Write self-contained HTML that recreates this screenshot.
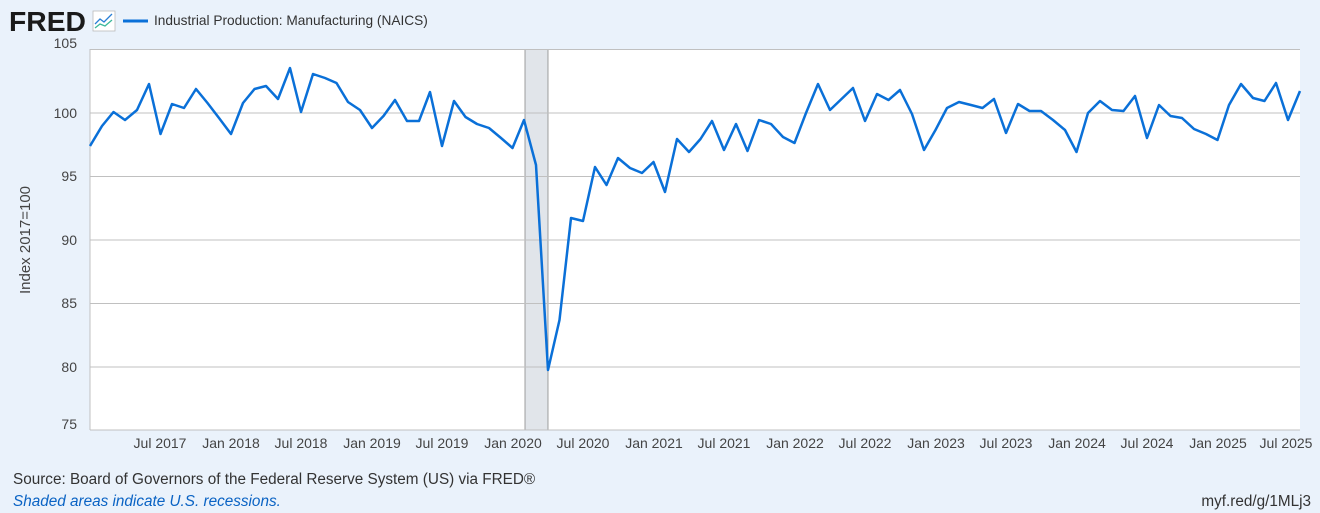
<!DOCTYPE html>
<html><head><meta charset="utf-8"><style>
html,body{margin:0;padding:0;background:#eaf2fb;}
svg{display:block;font-family:"Liberation Sans",sans-serif;}
</style></head><body>
<svg width="1320" height="513" viewBox="0 0 1320 513" xmlns="http://www.w3.org/2000/svg">
<rect width="1320" height="513" fill="#eaf2fb"/>
<text x="9" y="31" font-size="28" font-weight="bold" fill="#1a1a1a" letter-spacing="0" textLength="77" lengthAdjust="spacingAndGlyphs">FRED</text>
<rect x="93" y="11" width="22" height="20" fill="#fff" stroke="#bbb" stroke-width="0.8"/>
<polyline points="95,24 100,19 104,22 112,14" fill="none" stroke="#2a7fd6" stroke-width="1.3"/>
<polyline points="95,28 100,24 105,26 112,20" fill="none" stroke="#3cb89a" stroke-width="1.3"/>
<line x1="123" y1="21" x2="148" y2="21" stroke="#0a70d8" stroke-width="3"/>
<text x="154" y="25" font-size="13.7" fill="#333">Industrial Production: Manufacturing (NAICS)</text>
<rect x="90" y="49" width="1210" height="381" fill="#fff"/>
<rect x="525" y="49" width="23" height="381" fill="#e1e5ea"/>
<line x1="525" y1="49" x2="525" y2="430" stroke="#888" stroke-width="0.8"/>
<line x1="548" y1="49" x2="548" y2="430" stroke="#888" stroke-width="0.8"/>
<g stroke="#c0c0c0" stroke-width="1">
<line x1="90" y1="49.5" x2="1300" y2="49.5"/>
<line x1="90" y1="113" x2="1300" y2="113"/>
<line x1="90" y1="176.5" x2="1300" y2="176.5"/>
<line x1="90" y1="240" x2="1300" y2="240"/>
<line x1="90" y1="303.5" x2="1300" y2="303.5"/>
<line x1="90" y1="367" x2="1300" y2="367"/>
<line x1="90" y1="430" x2="1300" y2="430"/>
<line x1="90" y1="49" x2="90" y2="430"/>
</g>
<g font-size="14" fill="#444" text-anchor="end">
<text x="77" y="48">105</text><text x="77" y="118">100</text><text x="77" y="181">95</text>
<text x="77" y="245">90</text><text x="77" y="308">85</text><text x="77" y="372">80</text><text x="77" y="429">75</text>
</g>
<text transform="translate(30,240) rotate(-90)" font-size="15" fill="#444" text-anchor="middle">Index 2017=100</text>
<g font-size="14" fill="#444" text-anchor="middle">
<text x="160" y="448">Jul 2017</text><text x="231" y="448">Jan 2018</text><text x="301" y="448">Jul 2018</text>
<text x="372" y="448">Jan 2019</text><text x="442" y="448">Jul 2019</text><text x="513" y="448">Jan 2020</text>
<text x="583" y="448">Jul 2020</text><text x="654" y="448">Jan 2021</text><text x="724" y="448">Jul 2021</text>
<text x="795" y="448">Jan 2022</text><text x="865" y="448">Jul 2022</text><text x="936" y="448">Jan 2023</text>
<text x="1006" y="448">Jul 2023</text><text x="1077" y="448">Jan 2024</text><text x="1147" y="448">Jul 2024</text>
<text x="1218" y="448">Jan 2025</text><text x="1286" y="448">Jul 2025</text>
</g>
<polyline fill="none" stroke="#0a70d8" stroke-width="2.5" stroke-linejoin="round" points="90,146 102,126 113.5,112 125,120 137,110 149,84 160.5,134 172,104 184,108 196,89 207.5,103 219,118 231,134 243,103 254.5,89 266,86 278,99 290,68 301,112 313,74 325,78 336.5,83 348,102 360,110 372,128 383.5,116 395,100 407,121 419,121 430,92 442,146 454,101 465.5,117 477,124 489,128 501,138 512.5,148 524,120 536,165 548,370 559.5,320 571,218 583,221 595,167 606.5,185 618,158 630,168 642,173 653.5,162 665,192 677,139 689,152 700.5,139 712,121 724,150 736,124 747.5,151 759,120 771,124 783,137 794.5,143 806,113 818,84 830,110 841.5,99 853,88 865,121 877,94 888.5,100 900,90 912,114 924,150 935.5,130 947,108 959,102 971,105 982.5,108 994,99 1006,133 1018,104 1029.5,111 1041,111 1053,120 1065,130 1076.5,152 1088,113 1100,101 1112,110 1123.5,111 1135,96 1147,138 1159,105 1170.5,116 1182,118 1194,129 1206,134 1217.5,140 1229,105 1241,84 1253,98 1264.5,101 1276,83 1288,120 1300,91"/>
<text x="13" y="484" font-size="15.3" fill="#333">Source: Board of Governors of the Federal Reserve System (US) via FRED®</text>
<text x="13" y="506" font-size="15.3" fill="#0a63c4" font-style="italic">Shaded areas indicate U.S. recessions.</text>
<text x="1311" y="506" font-size="15.3" fill="#333" text-anchor="end">myf.red/g/1MLj3</text>
</svg>
</body></html>
